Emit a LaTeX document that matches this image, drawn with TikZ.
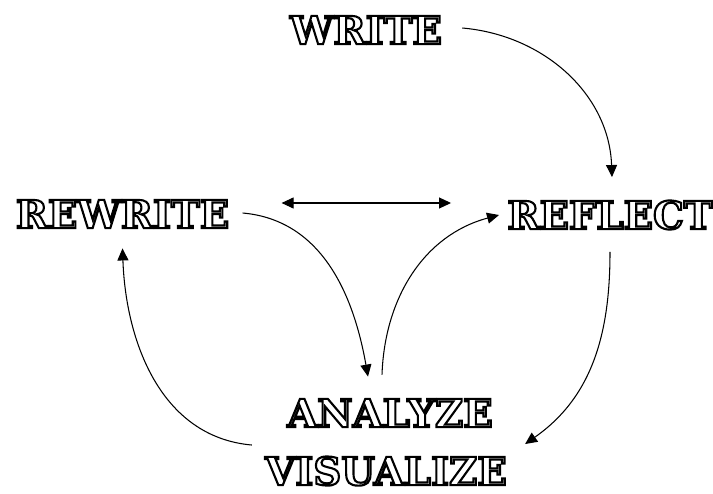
\documentclass[tikz,border=0pt]{standalone}
\usepackage{fontspec}
\usepackage{tikz}
\usetikzlibrary{arrows.meta,positioning,calc}
\newfontfamily\posterfont{DejaVu Serif}
\newcommand{\outlined}[1]{\special{pdf:code 0 G 2 Tr 1.2 w}#1\special{pdf:code 0 Tr}}

\begin{document}
\begin{tikzpicture}[
    word/.style={inner sep=0pt, text=white, font=\posterfont\bfseries\fontsize{22}{22}\selectfont},
    arr/.style={-{Triangle[length=2.4mm,width=2.2mm]}, semithick, black}
]
    \useasboundingbox (0,0) rectangle (14.26,9.86);

    \node[word] (write) at (7.32,9.26) {\outlined{WRITE}};
    \node[word] (rewrite) at (2.45,5.58) {\outlined{REWRITE}};
    \node[word] (reflect) at (12.2,5.56) {\outlined{REFLECT}};
    \node[word] (analyze) at (7.8,1.6) {\outlined{ANALYZE}};
    \node[word] (visualize) at (7.72,0.44) {\outlined{VISUALIZE}};

    \draw[arr] ([shift={(0.4,0.04)}]write.east) to[out=-5,in=92] ([shift={(0.04,0.46)}]reflect.north);
    \draw[arr, {Triangle[length=2.4mm,width=2.2mm]}-{Triangle[length=2.4mm,width=2.2mm]}]
        ([shift={(1.04,0.22)}]rewrite.east) -- ([shift={(-1.12,0.24)}]reflect.west);
    \draw[arr] ([shift={(0.26,0.02)}]rewrite.east) to[out=-5,in=100] ([shift={(-0.44,0.44)}]analyze.north);
    \draw[arr] ([shift={(-0.16,0.48)}]analyze.north) to[out=88,in=195] ([shift={(-0.16,0)}]reflect.west);
    \draw[arr] ([shift={(0,-0.44)}]reflect.south) to[out=-90,in=35] ([shift={(0.36,0.24)}]visualize.north east);
    \draw[arr] ([shift={(-0.26,0.22)}]visualize.north west) to[out=175,in=-88] ([shift={(0,-0.4)}]rewrite.south);
\end{tikzpicture}
\end{document}
